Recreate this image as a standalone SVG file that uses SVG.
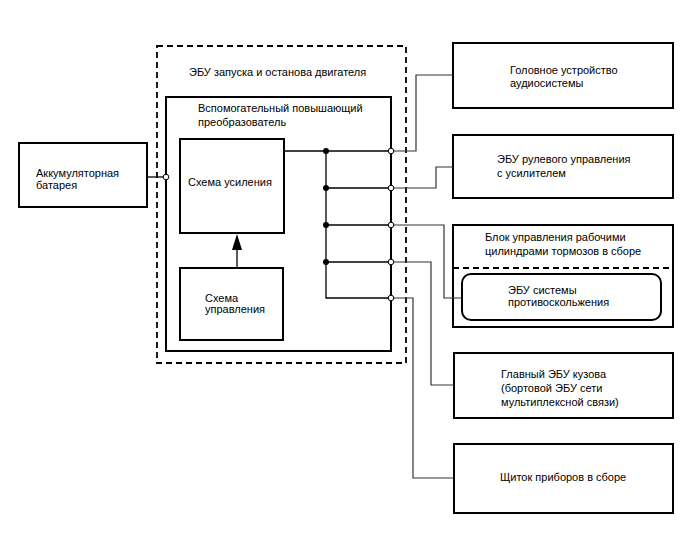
<svg xmlns="http://www.w3.org/2000/svg" width="688" height="560" viewBox="0 0 688 560">
<style>
text{font-family:"Liberation Sans",Arial,sans-serif;font-size:11px;fill:#000}
.box{fill:#fff;stroke:#000;stroke-width:2}
.dash{fill:none;stroke:#000;stroke-width:1.8;stroke-dasharray:6,4}
.w{fill:none;stroke:#333;stroke-width:1.2}
.b{fill:none;stroke:#000;stroke-width:1.3}
.oc{fill:#fff;stroke:#000;stroke-width:1}
.fc{fill:#000}
</style>
<rect width="688" height="560" fill="#fff"/>

<g id="ecu-start-stop">
<rect x="157" y="46" width="249" height="317" class="dash"/>
<text x="189" y="76">ЭБУ запуска и останова двигателя</text>
</g>
<g id="booster">
<rect x="166" y="97" width="225" height="254" class="box"/>
<text x="198" y="112">Вспомогательный повышающий</text>
<text x="198" y="126">преобразователь</text>
</g>
<g id="amp">
<rect x="180" y="139" width="104" height="94" class="box"/>
<text x="188" y="186">Схема усиления</text>
</g>
<g id="ctrl">
<rect x="180" y="268" width="103" height="72" class="box"/>
<text x="205" y="302">Схема</text>
<text x="205" y="313">управления</text>
</g>
<g id="battery">
<rect x="19" y="143" width="128" height="64" class="box"/>
<text x="36" y="177">Аккумуляторная</text>
<text x="36" y="189">батарея</text>
</g>
<g id="audio">
<rect x="453" y="43" width="220" height="65" class="box"/>
<text x="510" y="74">Головное устройство</text>
<text x="510" y="87">аудиосистемы</text>
</g>
<g id="eps">
<rect x="453" y="135" width="220" height="63" class="box"/>
<text x="497" y="163">ЭБУ рулевого управления</text>
<text x="497" y="177">с усилителем</text>
</g>
<g id="brake">
<rect x="453" y="225" width="220" height="102" class="box"/>
<text x="485" y="241">Блок управления рабочими</text>
<text x="485" y="255">цилиндрами тормозов в сборе</text>
<line x1="453" y1="268" x2="673" y2="268" class="dash"/>
</g>
<g id="skid">
<rect x="462" y="274" width="199" height="46" rx="9" class="box"/>
<text x="508" y="294">ЭБУ системы</text>
<text x="508" y="306">противоскольжения</text>
</g>
<g id="body">
<rect x="454" y="353" width="219" height="65" class="box"/>
<text x="501" y="378">Главный ЭБУ кузова</text>
<text x="501" y="392">(бортовой ЭБУ сети</text>
<text x="501" y="406">мультиплексной связи)</text>
</g>
<g id="meter">
<rect x="454" y="444" width="219" height="69" class="box"/>
<text x="500" y="481">Щиток приборов в сборе</text>
</g>

<g id="connectors">
<line x1="237" y1="268" x2="237" y2="245" class="b"/>
<polygon points="237,234 232,250 242,250" fill="#000"/>
<polyline points="147,177 166,177" class="b"/>
<polyline points="284,151 391,151" class="b"/>
<polyline points="326,151 326,298 391,298" class="b"/>
<line x1="326" y1="188" x2="391" y2="188" class="b"/>
<line x1="326" y1="225" x2="391" y2="225" class="b"/>
<line x1="326" y1="262" x2="391" y2="262" class="b"/>
<polyline points="391,151 416,151 416,75 453,75" class="w"/>
<polyline points="391,188 436,188 436,167 453,167" class="w"/>
<polyline points="391,225 444,225 444,298 462,298" class="w"/>
<polyline points="391,262 431,262 431,385 454,385" class="w"/>
<polyline points="391,298 413,298 413,478 454,478" class="w"/>
<circle cx="326" cy="151" r="3" class="fc"/>
<circle cx="326" cy="188" r="3" class="fc"/>
<circle cx="326" cy="225" r="3" class="fc"/>
<circle cx="326" cy="262" r="3" class="fc"/>
<circle cx="166" cy="177" r="2.8" class="oc"/>
<circle cx="391" cy="151" r="2.8" class="oc"/>
<circle cx="391" cy="188" r="2.8" class="oc"/>
<circle cx="391" cy="225" r="2.8" class="oc"/>
<circle cx="391" cy="262" r="2.8" class="oc"/>
<circle cx="391" cy="298" r="2.8" class="oc"/>
</g>
</svg>
